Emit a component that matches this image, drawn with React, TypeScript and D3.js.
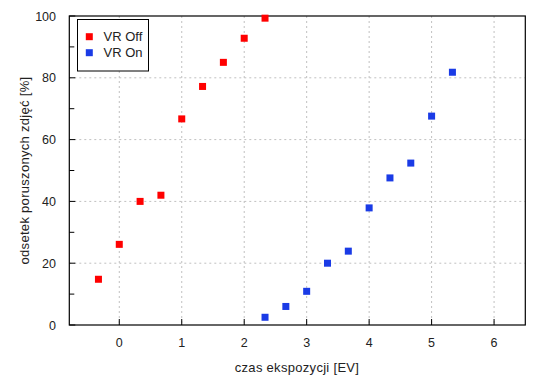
import React from "react";
import * as d3 from "d3";

const vrOffX = [-1 / 3, 0, 1 / 3, 2 / 3, 1, 4 / 3, 5 / 3, 2, 7 / 3];
const vrOffY = [14.8, 26.1, 40.0, 42.0, 66.7, 77.2, 85.0, 92.8, 99.3];
const vrOnX = [7 / 3, 8 / 3, 3, 10 / 3, 11 / 3, 4, 13 / 3, 14 / 3, 5, 16 / 3];
const vrOnY = [2.5, 6.0, 10.9, 20.0, 23.9, 37.9, 47.6, 52.4, 67.6, 81.8];
const xTicks = [0, 1, 2, 3, 4, 5, 6];
const yTicks = [0, 20, 40, 60, 80, 100];
const yMinorTicks = [10, 30, 50, 70, 90];
const seriesNames = ["VR Off", "VR On"];
const seriesColors = ["#ff0000", "#1a3be6"];
const xLabel = "czas ekspozycji [EV]";
const yLabel = "odsetek poruszonych zdjęć [%]";

export default function App() {
  const W = 550, H = 380;
  const L = 69.3, R = 525.3, T = 16, B = 325;
  const x = d3.scaleLinear().domain([-0.8, 6.5]).range([L, R]);
  const y = d3.scaleLinear().domain([0, 100]).range([B, T]);
  const font = "'Liberation Sans', Arial, sans-serif";
  const ms = 7;
  const series = [
    { xs: vrOffX, ys: vrOffY },
    { xs: vrOnX, ys: vrOnY },
  ];
  return (
    <svg width={W} height={H} style={{ position: "absolute", left: 0, top: 0, background: "#fff" }} fontFamily={font}>
      <rect x={0} y={0} width={W} height={H} fill="#fff" />
      {xTicks.map((t) => (
        <line key={"gx" + t} x1={x(t)} x2={x(t)} y1={T} y2={B} stroke="#c0c0c0" strokeDasharray="2,3" />
      ))}
      {yTicks.filter((t) => t > 0 && t < 100).map((t) => (
        <line key={"gy" + t} x1={L} x2={R} y1={y(t)} y2={y(t)} stroke="#c0c0c0" strokeDasharray="2,3" />
      ))}
      {xTicks.map((t) => (
        <g key={"tx" + t}>
          <line x1={x(t)} x2={x(t)} y1={B} y2={B - 6} stroke="#000" />
          <text x={x(t)} y={B + 22} textAnchor="middle" fontSize={12.5} fill="#222">{t}</text>
        </g>
      ))}
      {yTicks.map((t) => (
        <g key={"ty" + t}>
          <line x1={L} x2={L + 6} y1={y(t)} y2={y(t)} stroke="#000" />
          <text x={56} y={y(t) + 4.5} textAnchor="end" fontSize={12.5} fill="#222">{t}</text>
        </g>
      ))}
      {yMinorTicks.map((t) => (
        <line key={"my" + t} x1={L} x2={L + 5} y1={y(t)} y2={y(t)} stroke="#000" />
      ))}
      <rect x={L} y={T} width={R - L} height={B - T} fill="none" stroke="#000" strokeWidth={1.2} />
      {series.map((s, i) =>
        s.xs.map((xv, j) => (
          <rect key={i + "-" + j} x={x(xv) - ms / 2} y={y(s.ys[j]) - ms / 2} width={ms} height={ms} fill={seriesColors[i]} />
        ))
      )}
      <rect x={77.5} y={19.5} width={71} height={51.5} fill="#fff" stroke="#000" />
      {seriesNames.map((n, i) => (
        <g key={n}>
          <rect x={89.3 - ms / 2} y={36.7 + i * 16 - ms / 2} width={ms} height={ms} fill={seriesColors[i]} />
          <text x={103.5} y={36.7 + i * 16 + 4.7} fontSize={13} fill="#222">{n}</text>
        </g>
      ))}
      <text x={297} y={372} textAnchor="middle" fontSize={13} letterSpacing={0.3} fill="#222">{xLabel}</text>
      <text transform={`translate(24,${(T + B) / 2}) rotate(-90)`} textAnchor="middle" fontSize={13} letterSpacing={0.3} fill="#222" dy={4.5}>{yLabel}</text>
    </svg>
  );
}
